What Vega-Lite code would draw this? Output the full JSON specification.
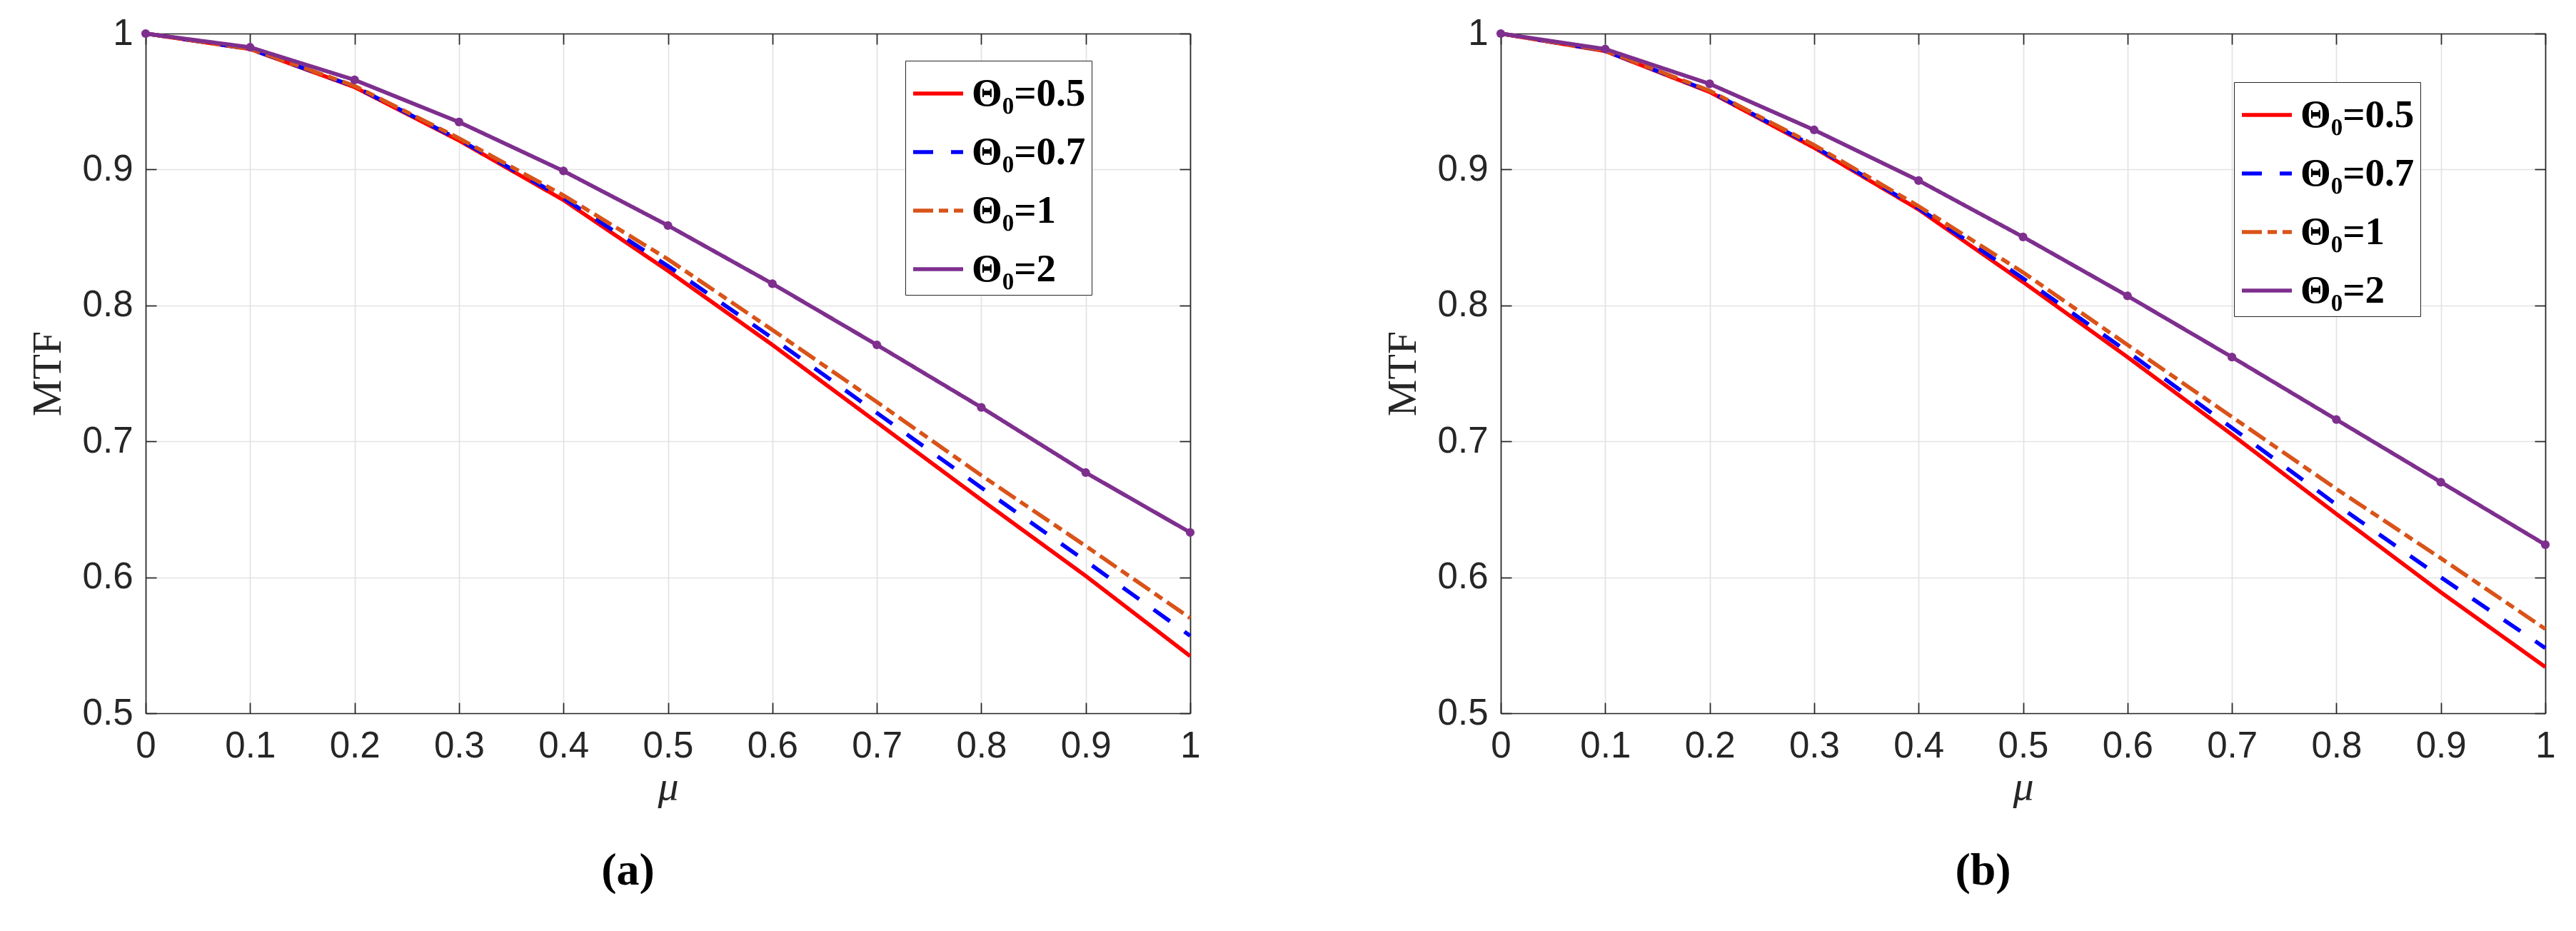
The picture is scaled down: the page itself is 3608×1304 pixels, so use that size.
{
  "$schema": "https://vega.github.io/schema/vega-lite/v6.json",
  "background": "white",
  "padding": {"left": 38, "top": 21, "right": 0, "bottom": 0},
  "spacing": 254,
  "config": {
    "view": {"stroke": null},
    "font": "Liberation Sans",
    "axis": {
      "labelFont": "Liberation Sans", "labelFontSize": 51, "labelColor": "#262626",
      "tickColor": "#262626", "tickWidth": 1.7, "tickSize": -15,
      "domainColor": "#262626", "domainWidth": 1.7,
      "gridColor": "#e3e3e3", "gridWidth": 1.7,
      "labelFlush": false, "labelOverlap": false,
      "titleFont": "Liberation Serif", "titleFontWeight": "normal", "titleFontSize": 58, "titleColor": "#262626"
    },
    "legend": {
      "orient": "none", "symbolType": "stroke", "symbolStrokeWidth": 5.6, "symbolSize": 4900,
      "labelFont": "Liberation Serif", "labelFontWeight": "bold", "labelFontSize": 55, "labelColor": "black",
      "fillColor": "white", "strokeColor": "#262626", "padding": 8, "rowPadding": 16, "labelOffset": 9,
      "labelLimit": 400
    },
    "title": {"font": "Liberation Serif", "fontSize": 64, "fontWeight": "bold", "color": "black", "orient": "bottom", "anchor": "middle", "offset": 57, "dx": -56}
  },
  "resolve": {"scale": {"color": "independent", "strokeDash": "independent"}},
  "datasets": {
    "a": [
      {"mu": 0.0, "mtf": 1.000, "series": "Θ₀=0.5"}, {"mu": 0.1, "mtf": 0.9886, "series": "Θ₀=0.5"}, {"mu": 0.2, "mtf": 0.9606, "series": "Θ₀=0.5"}, {"mu": 0.3, "mtf": 0.9213, "series": "Θ₀=0.5"}, {"mu": 0.4, "mtf": 0.8775, "series": "Θ₀=0.5"}, {"mu": 0.5, "mtf": 0.8255, "series": "Θ₀=0.5"}, {"mu": 0.6, "mtf": 0.771, "series": "Θ₀=0.5"}, {"mu": 0.7, "mtf": 0.714, "series": "Θ₀=0.5"}, {"mu": 0.8, "mtf": 0.657, "series": "Θ₀=0.5"}, {"mu": 0.9, "mtf": 0.601, "series": "Θ₀=0.5"}, {"mu": 1.0, "mtf": 0.542, "series": "Θ₀=0.5"},
      {"mu": 0.0, "mtf": 1.000, "series": "Θ₀=0.7"}, {"mu": 0.1, "mtf": 0.9887, "series": "Θ₀=0.7"}, {"mu": 0.2, "mtf": 0.961, "series": "Θ₀=0.7"}, {"mu": 0.3, "mtf": 0.922, "series": "Θ₀=0.7"}, {"mu": 0.4, "mtf": 0.879, "series": "Θ₀=0.7"}, {"mu": 0.5, "mtf": 0.829, "series": "Θ₀=0.7"}, {"mu": 0.6, "mtf": 0.776, "series": "Θ₀=0.7"}, {"mu": 0.7, "mtf": 0.721, "series": "Θ₀=0.7"}, {"mu": 0.8, "mtf": 0.666, "series": "Θ₀=0.7"}, {"mu": 0.9, "mtf": 0.612, "series": "Θ₀=0.7"}, {"mu": 1.0, "mtf": 0.557, "series": "Θ₀=0.7"},
      {"mu": 0.0, "mtf": 1.000, "series": "Θ₀=1"}, {"mu": 0.1, "mtf": 0.9888, "series": "Θ₀=1"}, {"mu": 0.2, "mtf": 0.9615, "series": "Θ₀=1"}, {"mu": 0.3, "mtf": 0.923, "series": "Θ₀=1"}, {"mu": 0.4, "mtf": 0.881, "series": "Θ₀=1"}, {"mu": 0.5, "mtf": 0.834, "series": "Θ₀=1"}, {"mu": 0.6, "mtf": 0.782, "series": "Θ₀=1"}, {"mu": 0.7, "mtf": 0.729, "series": "Θ₀=1"}, {"mu": 0.8, "mtf": 0.675, "series": "Θ₀=1"}, {"mu": 0.9, "mtf": 0.623, "series": "Θ₀=1"}, {"mu": 1.0, "mtf": 0.570, "series": "Θ₀=1"},
      {"mu": 0.0, "mtf": 1.000, "series": "Θ₀=2"}, {"mu": 0.1, "mtf": 0.9899, "series": "Θ₀=2"}, {"mu": 0.2, "mtf": 0.9659, "series": "Θ₀=2"}, {"mu": 0.3, "mtf": 0.9349, "series": "Θ₀=2"}, {"mu": 0.4, "mtf": 0.8989, "series": "Θ₀=2"}, {"mu": 0.5, "mtf": 0.8588, "series": "Θ₀=2"}, {"mu": 0.6, "mtf": 0.816, "series": "Θ₀=2"}, {"mu": 0.7, "mtf": 0.771, "series": "Θ₀=2"}, {"mu": 0.8, "mtf": 0.725, "series": "Θ₀=2"}, {"mu": 0.9, "mtf": 0.677, "series": "Θ₀=2"}, {"mu": 1.0, "mtf": 0.633, "series": "Θ₀=2"}
    ],
    "b": [
      {"mu": 0.0, "mtf": 1.000, "series": "Θ₀=0.5"}, {"mu": 0.1, "mtf": 0.9871, "series": "Θ₀=0.5"}, {"mu": 0.2, "mtf": 0.957, "series": "Θ₀=0.5"}, {"mu": 0.3, "mtf": 0.916, "series": "Θ₀=0.5"}, {"mu": 0.4, "mtf": 0.8706, "series": "Θ₀=0.5"}, {"mu": 0.5, "mtf": 0.8172, "series": "Θ₀=0.5"}, {"mu": 0.6, "mtf": 0.762, "series": "Θ₀=0.5"}, {"mu": 0.7, "mtf": 0.705, "series": "Θ₀=0.5"}, {"mu": 0.8, "mtf": 0.6466, "series": "Θ₀=0.5"}, {"mu": 0.9, "mtf": 0.589, "series": "Θ₀=0.5"}, {"mu": 1.0, "mtf": 0.534, "series": "Θ₀=0.5"},
      {"mu": 0.0, "mtf": 1.000, "series": "Θ₀=0.7"}, {"mu": 0.1, "mtf": 0.9873, "series": "Θ₀=0.7"}, {"mu": 0.2, "mtf": 0.9575, "series": "Θ₀=0.7"}, {"mu": 0.3, "mtf": 0.917, "series": "Θ₀=0.7"}, {"mu": 0.4, "mtf": 0.8715, "series": "Θ₀=0.7"}, {"mu": 0.5, "mtf": 0.820, "series": "Θ₀=0.7"}, {"mu": 0.6, "mtf": 0.766, "series": "Θ₀=0.7"}, {"mu": 0.7, "mtf": 0.710, "series": "Θ₀=0.7"}, {"mu": 0.8, "mtf": 0.6535, "series": "Θ₀=0.7"}, {"mu": 0.9, "mtf": 0.600, "series": "Θ₀=0.7"}, {"mu": 1.0, "mtf": 0.548, "series": "Θ₀=0.7"},
      {"mu": 0.0, "mtf": 1.000, "series": "Θ₀=1"}, {"mu": 0.1, "mtf": 0.9875, "series": "Θ₀=1"}, {"mu": 0.2, "mtf": 0.958, "series": "Θ₀=1"}, {"mu": 0.3, "mtf": 0.918, "series": "Θ₀=1"}, {"mu": 0.4, "mtf": 0.873, "series": "Θ₀=1"}, {"mu": 0.5, "mtf": 0.8243, "series": "Θ₀=1"}, {"mu": 0.6, "mtf": 0.771, "series": "Θ₀=1"}, {"mu": 0.7, "mtf": 0.718, "series": "Θ₀=1"}, {"mu": 0.8, "mtf": 0.665, "series": "Θ₀=1"}, {"mu": 0.9, "mtf": 0.614, "series": "Θ₀=1"}, {"mu": 1.0, "mtf": 0.562, "series": "Θ₀=1"},
      {"mu": 0.0, "mtf": 1.000, "series": "Θ₀=2"}, {"mu": 0.1, "mtf": 0.9886, "series": "Θ₀=2"}, {"mu": 0.2, "mtf": 0.963, "series": "Θ₀=2"}, {"mu": 0.3, "mtf": 0.9291, "series": "Θ₀=2"}, {"mu": 0.4, "mtf": 0.8919, "series": "Θ₀=2"}, {"mu": 0.5, "mtf": 0.8504, "series": "Θ₀=2"}, {"mu": 0.6, "mtf": 0.807, "series": "Θ₀=2"}, {"mu": 0.7, "mtf": 0.762, "series": "Θ₀=2"}, {"mu": 0.8, "mtf": 0.716, "series": "Θ₀=2"}, {"mu": 0.9, "mtf": 0.670, "series": "Θ₀=2"}, {"mu": 1.0, "mtf": 0.624, "series": "Θ₀=2"}
    ]
  },
  "hconcat": [
    {
      "width": 1463, "height": 952,
      "data": {"name": "a"},
      "title": {"text": "(a)"},
      "resolve": {"scale": {"x": "independent", "y": "independent"}, "axis": {"x": "independent", "y": "independent"}},
      "layer": [
        {
          "mark": {"type": "line", "strokeWidth": 5.6, "strokeCap": "butt"},
          "encoding": {
            "x": {"field": "mu", "type": "quantitative", "scale": {"domain": [0, 1], "nice": false},
                  "axis": {"orient": "bottom", "values": [0, 0.1, 0.2, 0.3, 0.4, 0.5, 0.6, 0.7, 0.8, 0.9, 1], "format": "~g", "grid": true, "title": "μ", "titleFontStyle": "italic", "labelPadding": 36, "titlePadding": 3}},
            "y": {"field": "mtf", "type": "quantitative", "scale": {"domain": [0.5, 1], "nice": false, "zero": false},
                  "axis": {"orient": "left", "values": [0.5, 0.6, 0.7, 0.8, 0.9, 1], "format": "~g", "grid": true, "title": "MTF", "labelPadding": 33, "titlePadding": 19}},
            "color": {"field": "series", "type": "nominal",
                      "scale": {"domain": ["Θ₀=0.5", "Θ₀=0.7", "Θ₀=1", "Θ₀=2"], "range": ["#FF0000", "#0000FF", "#D95319", "#7E2F8E"]},
                      "legend": {"title": null, "legendX": 1064, "legendY": 38}},
            "strokeDash": {"field": "series", "type": "nominal",
                      "scale": {"domain": ["Θ₀=0.5", "Θ₀=0.7", "Θ₀=1", "Θ₀=2"], "range": [[1, 0], [28, 25], [28, 8, 13, 8], [1, 0]]},
                      "legend": {"title": null, "legendX": 1064, "legendY": 38}}
          }
        },
        {
          "transform": [{"filter": "datum.series === 'Θ₀=2'"}],
          "mark": {"type": "point", "filled": true, "size": 150, "opacity": 1, "color": "#7E2F8E"},
          "encoding": {
            "x": {"field": "mu", "type": "quantitative", "scale": {"domain": [0, 1], "nice": false},
                  "axis": {"orient": "top", "values": [0, 0.1, 0.2, 0.3, 0.4, 0.5, 0.6, 0.7, 0.8, 0.9, 1], "labels": false, "grid": false, "title": null}},
            "y": {"field": "mtf", "type": "quantitative", "scale": {"domain": [0.5, 1], "nice": false, "zero": false},
                  "axis": {"orient": "right", "values": [0.5, 0.6, 0.7, 0.8, 0.9, 1], "labels": false, "grid": false, "title": null}}
          }
        }
      ]
    },
    {
      "width": 1463, "height": 952,
      "data": {"name": "b"},
      "title": {"text": "(b)"},
      "resolve": {"scale": {"x": "independent", "y": "independent"}, "axis": {"x": "independent", "y": "independent"}},
      "layer": [
        {
          "mark": {"type": "line", "strokeWidth": 5.6, "strokeCap": "butt"},
          "encoding": {
            "x": {"field": "mu", "type": "quantitative", "scale": {"domain": [0, 1], "nice": false},
                  "axis": {"orient": "bottom", "values": [0, 0.1, 0.2, 0.3, 0.4, 0.5, 0.6, 0.7, 0.8, 0.9, 1], "format": "~g", "grid": true, "title": "μ", "titleFontStyle": "italic", "labelPadding": 36, "titlePadding": 3}},
            "y": {"field": "mtf", "type": "quantitative", "scale": {"domain": [0.5, 1], "nice": false, "zero": false},
                  "axis": {"orient": "left", "values": [0.5, 0.6, 0.7, 0.8, 0.9, 1], "format": "~g", "grid": true, "title": "MTF", "labelPadding": 33, "titlePadding": 19}},
            "color": {"field": "series", "type": "nominal",
                      "scale": {"domain": ["Θ₀=0.5", "Θ₀=0.7", "Θ₀=1", "Θ₀=2"], "range": ["#FF0000", "#0000FF", "#D95319", "#7E2F8E"]},
                      "legend": {"title": null, "legendX": 1027, "legendY": 68}},
            "strokeDash": {"field": "series", "type": "nominal",
                      "scale": {"domain": ["Θ₀=0.5", "Θ₀=0.7", "Θ₀=1", "Θ₀=2"], "range": [[1, 0], [28, 25], [28, 8, 13, 8], [1, 0]]},
                      "legend": {"title": null, "legendX": 1027, "legendY": 68}}
          }
        },
        {
          "transform": [{"filter": "datum.series === 'Θ₀=2'"}],
          "mark": {"type": "point", "filled": true, "size": 150, "opacity": 1, "color": "#7E2F8E"},
          "encoding": {
            "x": {"field": "mu", "type": "quantitative", "scale": {"domain": [0, 1], "nice": false},
                  "axis": {"orient": "top", "values": [0, 0.1, 0.2, 0.3, 0.4, 0.5, 0.6, 0.7, 0.8, 0.9, 1], "labels": false, "grid": false, "title": null}},
            "y": {"field": "mtf", "type": "quantitative", "scale": {"domain": [0.5, 1], "nice": false, "zero": false},
                  "axis": {"orient": "right", "values": [0.5, 0.6, 0.7, 0.8, 0.9, 1], "labels": false, "grid": false, "title": null}}
          }
        }
      ]
    }
  ]
}
